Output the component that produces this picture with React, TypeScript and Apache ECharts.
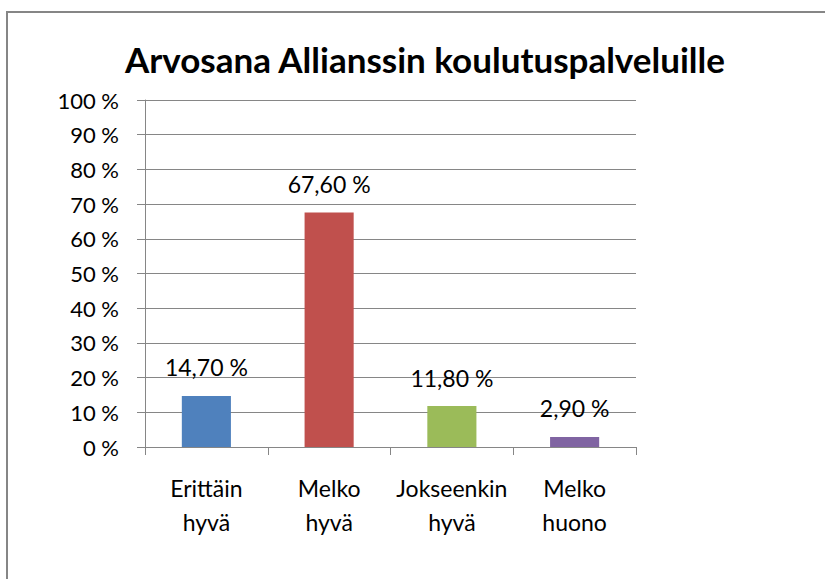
import React, { useEffect, useRef } from "react";
import * as echarts from "echarts";

const titleText = "Arvosana Allianssin koulutuspalveluille";
const categories = ["Erittäin\nhyvä", "Melko\nhyvä", "Jokseenkin\nhyvä", "Melko\nhuono"];
const values = [14.7, 67.6, 11.8, 2.9];
const barColors = ["#4F81BD", "#C0504D", "#9BBB59", "#8064A2"];
const yMin = 0;
const yMax = 100;
const yStep = 10;

const fmtPct = (v: number) => v.toFixed(2).replace(".", ",") + " %";

export default function App() {
  const ref = useRef<HTMLDivElement>(null);
  useEffect(() => {
    document.body.style.margin = "0";
    const chart = echarts.init(ref.current!, null, { renderer: "svg" });
    const font = "Lato, 'Open Sans', sans-serif";
    chart.setOption({
      animation: false,
      backgroundColor: "#ffffff",
      textStyle: { fontFamily: font },
      title: {
        text: titleText,
        left: 120,
        top: 36,
        textStyle: { fontFamily: font, fontWeight: "bold", fontSize: 35, color: "#000000" },
      },
      graphic: [
        {
          type: "rect",
          shape: { x: 7, y: 12, width: 900, height: 700 },
          style: { fill: "none", stroke: "#868686", lineWidth: 2 },
          silent: true,
        },
      ],
      grid: { left: 145, right: 189, top: 100, bottom: 132 },
      xAxis: {
        type: "category",
        data: categories,
        boundaryGap: true,
        axisLine: { lineStyle: { color: "#868686", width: 1 } },
        axisTick: { show: true, length: 8, lineStyle: { color: "#868686" } },
        axisLabel: {
          color: "#000000",
          fontFamily: font,
          fontSize: 23,
          lineHeight: 34,
          margin: 24,
          interval: 0,
        },
      },
      yAxis: {
        type: "value",
        min: yMin,
        max: yMax,
        interval: yStep,
        axisLine: { show: true, lineStyle: { color: "#868686" } },
        axisTick: { show: true, length: 8, lineStyle: { color: "#868686" } },
        splitLine: { show: true, lineStyle: { color: "#868686", width: 1 } },
        axisLabel: {
          color: "#000000",
          fontFamily: font,
          fontSize: 22,
          margin: 26,
          formatter: (v: number) => `${v} %`,
        },
      },
      series: [
        {
          type: "bar",
          barWidth: "40%",
          data: values.map((v, i) => ({ value: v, itemStyle: { color: barColors[i] } })),
          label: {
            show: true,
            position: "top",
            distance: 17,
            color: "#000000",
            fontFamily: font,
            fontSize: 23,
            formatter: (p: any) => fmtPct(p.value),
          },
        },
      ],
    });
    return () => chart.dispose();
  }, []);
  return <div ref={ref} style={{ position: "fixed", left: 0, top: 0, width: 825, height: 579 }} />;
}
